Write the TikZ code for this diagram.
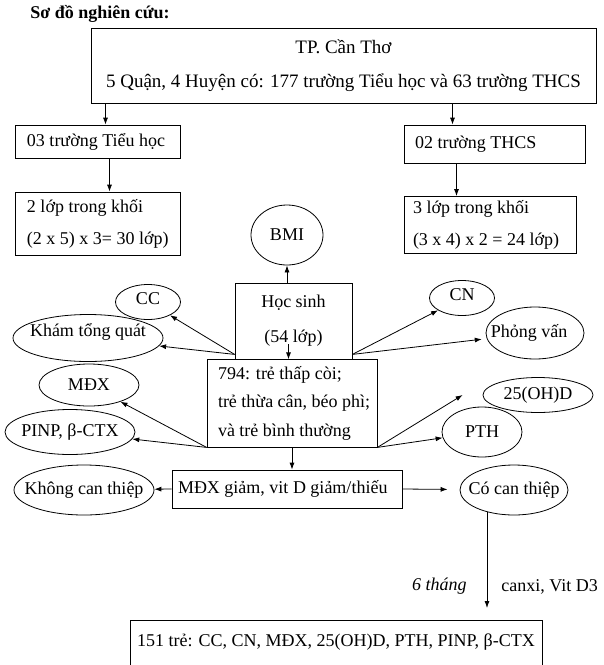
\documentclass[tikz,border=0pt]{standalone}
\usepackage{fontspec}
\setmainfont{Liberation Serif}
\usetikzlibrary{shapes.geometric, arrows.meta, positioning}

\begin{document}
\begin{tikzpicture}[x = 1pt, y = -1pt, line width = 0.8pt,
                    font = \fontsize{18}{32}\selectfont,
                    box/.style = {draw, rectangle, inner sep = 0pt},
                    txt/.style = {align = left, inner sep = 0pt},
                    oval/.style = {draw, ellipse, inner sep = 0pt},
                    lbl/.style = {inner sep = 0pt},
                    arr/.style = {-{Latex[length = 7pt, width = 5pt]}}]
      \useasboundingbox (0, 0) rectangle (604, 665);
      \node [lbl, anchor = west, font = \fontsize{18}{20}\selectfont\bfseries] (title) at (30, 14){Sơ đồ nghiên cứu:};
      \node [box, align = center, minimum width = 505, minimum height = 75, font = \fontsize{19}{34}\selectfont] (tp) at (343.5, 65.5){TP. Cần Thơ\\5 Quận, 4 Huyện có: 177 trường Tiểu học và 63 trường THCS};
      \node [box, minimum width = 165, minimum height = 33] (th1) at (97.5, 141.5){};
      \node [txt, right = 12pt of th1.west] (th1t) {03 trường Tiểu học};
      \node [box, minimum width = 181, minimum height = 38] (cs1) at (494.5, 144){};
      \node [txt, right = 11pt of cs1.west] (cs1t) {02 trường THCS};
      \node [box, minimum width = 165, minimum height = 63] (th2) at (97.5, 223.5){};
      \node [txt, right = 12pt of th2.west] (th2t) {2 lớp trong khối\\(2 x 5) x 3= 30 lớp)};
      \node [box, minimum width = 172, minimum height = 57] (cs2) at (490, 225){};
      \node [txt, right = 9pt of cs2.west] (cs2t) {3 lớp trong khối\\(3 x 4) x 2 = 24 lớp)};
      \node [oval, minimum width = 72, minimum height = 60, label = {center:BMI}] (bmi) at (287, 235){};
      \node [box, align = center, minimum width = 117, minimum height = 76, font = \fontsize{18}{35}\selectfont] (hs) at (293.5, 321){Học sinh\\(54 lớp)};
      \node [oval, minimum width = 65, minimum height = 35, label = {[yshift = 3pt]center:CC}] (cc) at (148, 302){};
      \node [oval, minimum width = 150, minimum height = 47, label = {[yshift = 6pt]center:Khám tổng quát}] (kham) at (88, 338){};
      \node [oval, minimum width = 65, minimum height = 35, label = {[yshift = 3pt]center:CN}] (cn) at (462, 298){};
      \node [oval, minimum width = 98, minimum height = 52, label = {[xshift = -6pt]center:Phỏng vấn}] (pv) at (535, 333){};
      \node [box, minimum width = 170, minimum height = 88, fill = white] (kid) at (292, 403){};
      \node [txt, right = 11pt of kid.west, font = \fontsize{18}{28.5}\selectfont] (kidt) {794: trẻ thấp còi;\\trẻ thừa cân, béo phì;\\và trẻ bình thường};
      \node [oval, minimum width = 100, minimum height = 42, label = {center:MĐX}] (mdx) at (89, 385){};
      \node [oval, minimum width = 110, minimum height = 35, label = {center:25(OH)D}] (d25) at (538, 395){};
      \node [oval, minimum width = 130, minimum height = 45, label = {center:PINP, β-CTX}] (pinp) at (70, 432){};
      \node [oval, minimum width = 80, minimum height = 50, label = {center:PTH}] (pth) at (482, 432){};
      \node [box, minimum width = 230, minimum height = 38] (mdg) at (287, 489){};
      \node [txt, right = 6pt of mdg.west] (mdgt) {MĐX giảm, vit D giảm/thiếu};
      \node [oval, minimum width = 140, minimum height = 50, label = {center:Không can thiệp}] (kct) at (84, 490){};
      \node [oval, minimum width = 108, minimum height = 50, label = {center:Có can thiệp}] (cct) at (514, 490){};
      \node [box, anchor = north, minimum width = 412, text height = 26pt, text depth = 22pt] (bot) at (336, 620){151 trẻ: CC, CN, MĐX, 25(OH)D, PTH, PINP, β-CTX};
      \draw [arr] ([xshift = 8pt]th1.north |- tp.south) -- ([xshift = 8pt]th1.north);
      \draw [arr] ([xshift = -42pt]cs1.north |- tp.south) -- ([xshift = -42pt]cs1.north);
      \draw [arr] ([xshift = 12pt]th1.south) -- ([xshift = 12pt]th1.south |- th2.north);
      \draw [arr] ([xshift = -38pt]cs1.south) -- ([xshift = -38pt]cs1.south |- cs2.north);
      \draw [arr] (hs.north -| bmi.south) -- (bmi.south);
      \draw [arr] ([xshift = -5pt, yshift = 15pt]hs.south) -- ([xshift = -5pt]hs.south);
      \draw [arr] ([yshift = 5pt]hs.south west) -- (cc);
      \draw [arr] ([yshift = 5pt]hs.south west) -- (kham);
      \draw [arr] ([yshift = 5pt]hs.south east) -- (cn);
      \draw [arr, shorten > = 5pt] ([yshift = 5pt]hs.south east) -- (pv);
      \draw [arr] (kid.south west) -- (mdx);
      \draw [arr] (kid.south west) -- (pinp);
      \draw [arr] (kid.south east) -- ([xshift = -20pt]d25.west);
      \draw [arr] (kid.south east) -- (pth);
      \draw [arr] (kid.south) -- (kid.south |- mdg.north);
      \draw [arr] (mdg.west) -- (kct);
      \draw [arr, shorten > = 12pt] (mdg.east) -- (cct);
      \draw [arr, shorten > = 12pt] ([xshift = -27pt, yshift = 3pt]cct.south) -- ([xshift = -27pt]cct.south |- bot.north)
        node [lbl, pos = 0.69, left = 20pt, font = \fontsize{18}{20}\selectfont\itshape] (six) {6 tháng}
        node [lbl, pos = 0.69, right = 14pt] (drug) {canxi, Vit D3};
    \end{tikzpicture}
\end{document}
